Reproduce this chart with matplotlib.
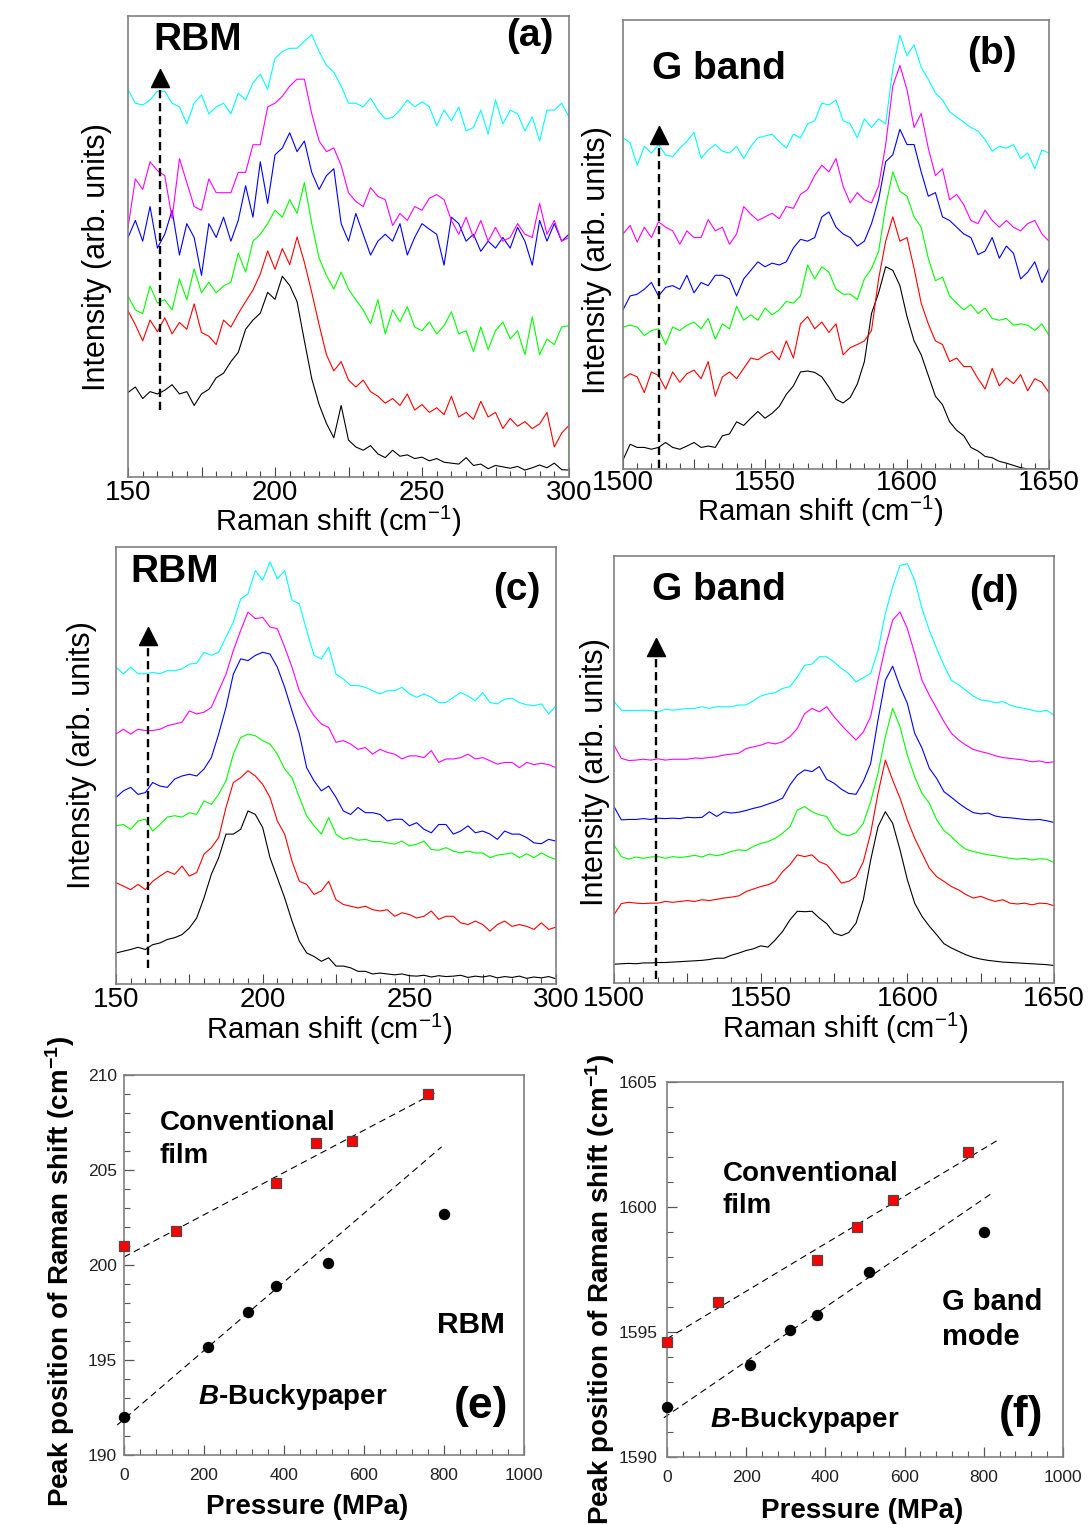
import numpy as np
import matplotlib
matplotlib.use('Agg')
import matplotlib.pyplot as plt
from matplotlib.ticker import MultipleLocator, FuncFormatter

plt.rcParams['font.family'] = ['Liberation Sans', 'DejaVu Sans']
plt.rcParams['mathtext.fontset'] = 'custom'
plt.rcParams['mathtext.rm'] = 'Liberation Sans'
plt.rcParams['mathtext.it'] = 'Liberation Sans:style=italic:weight=bold'
plt.rcParams['mathtext.bf'] = 'Liberation Sans:bold'

# ---------------- data ----------------
rbm_shift = np.arange(150, 300.01, 2.5)      # cm-1 sampling, panels a/c
g_shift = np.arange(1500, 1650.01, 2.5)      # cm-1 sampling, panels b/d
trace_colors = ['#000000', '#ff0000', '#00ff00', '#0000ff', '#ff00ff', '#00ffff']

a_black = [18.3,19.5,17.0,18.5,18.0,18.8,20.0,18.0,18.5,15.5,18.0,19.0,21.5,22.5,25.0,27.0,32.0,34.0,35.5,40.0,
           38.5,43.5,41.5,38.0,29.5,21.3,15.7,11.6,8.5,15.5,8.0,6.5,5.8,6.8,5.0,4.2,5.8,4.5,4.8,4.0,
           4.3,3.5,4.0,3.2,3.0,2.8,4.2,2.5,2.8,1.8,2.5,2.2,1.9,2.3,1.5,2.0,2.6,2.0,3.0,1.6,1.5]
a_red = [36.0,33.0,29.5,34.0,31.5,34.5,31.0,33.5,32.0,37.5,31.3,30.5,28.7,34.0,32.5,35.4,38.0,40.5,44.0,49.0,
         45.0,49.5,46.0,52.0,46.5,40.0,33.0,26.5,23.0,25.0,21.0,19.5,21.0,18.5,17.5,16.0,17.0,15.5,18.0,14.5,
         15.7,14.0,15.0,13.5,17.5,13.0,14.0,12.5,16.4,13.0,14.0,10.5,12.7,11.0,12.0,10.5,11.5,14.0,6.5,9.5,11.2]
a_green = [39.2,36.2,35.4,41.4,37.7,38.4,36.2,42.9,38.4,45.1,39.9,42.2,39.9,41.4,42.2,48.5,44.4,51.1,52.6,54.9,
           57.8,56.3,60.1,57.1,63.8,54.9,47.4,43.7,40.7,44.4,40.7,38.4,36.2,33.2,38.4,31.0,36.2,33.6,36.9,32.5,
           31.7,33.6,31.0,32.8,35.8,31.0,31.7,27.2,32.5,27.6,31.7,33.6,29.9,31.7,26.5,34.7,26.5,29.9,28.7,32.5,32.8]
a_green_end = 1.5
a_blue = [51.9,55.6,51.1,58.6,49.6,52.6,57.8,48.1,54.9,51.9,43.7,54.9,51.9,56.3,51.1,55.6,63.1,56.3,68.3,59.3,
          69.8,71.3,74.6,70.5,72.8,66.0,62.3,65.3,66.8,54.9,51.1,57.1,52.6,48.1,51.1,52.6,51.1,54.9,48.1,51.9,
          54.9,53.7,52.6,45.9,56.3,54.9,51.1,52.6,48.9,51.1,49.6,51.9,49.6,54.1,51.1,45.9,55.6,51.1,54.9,51.1,52.6]
a_magenta = [54.0,64.6,62.3,68.3,66.4,65.3,56.0,69.0,63.8,58.6,57.8,64.6,61.6,61.6,61.6,66.0,66.0,72.0,72.0,80.2,
             81.0,82.5,84.7,86.2,86.2,78.7,72.8,70.5,71.3,67.5,61.6,59.7,58.6,62.7,60.8,60.1,54.5,57.1,55.6,58.6,
             57.8,60.4,61.2,60.1,55.6,52.6,56.3,51.9,55.6,51.1,54.1,51.1,51.9,54.9,52.6,51.9,59.3,52.6,55.6,51.1,51.9]
a_cyan = [84.0,81.0,80.6,81.7,83.6,83.6,81.0,80.2,76.5,81.0,82.8,78.7,80.2,81.0,78.7,83.2,81.7,85.4,87.3,84.0,
          90.7,92.2,92.9,92.9,94.4,95.9,92.2,89.2,87.7,84.7,81.0,81.0,80.2,82.1,79.5,77.6,77.9,79.5,81.7,80.2,
          81.3,80.2,76.1,79.5,77.2,80.2,75.0,75.7,79.5,74.3,81.7,76.5,79.5,78.7,75.0,78.0,72.8,79.5,79.5,81.0,78.0]

b_black = [2.0,5.5,4.8,4.8,4.4,4.8,5.9,4.8,4.4,5.1,5.9,4.8,5.1,4.8,7.4,7.8,10.5,9.7,11.3,12.8,
           11.3,12.4,13.9,16.6,18.5,21.6,21.8,21.5,20.5,18.2,15.5,14.7,15.9,18.9,23.9,34.6,39.2,45.0,44.2,40.8,
           33.9,28.5,25.4,20.8,16.2,14.3,10.5,8.6,7.4,4.8,4.0,2.8,2.5,1.7,1.3,0.8,0.3,0.0,0.0,0.0,0.0]
b_red = [20.1,21.2,20.5,17.0,21.6,20.8,17.8,21.6,19.3,21.2,22.0,20.1,23.9,16.2,20.5,21.6,20.1,22.4,24.7,24.3,
         25.4,26.2,24.3,28.5,24.7,32.3,33.9,31.2,32.7,30.4,32.3,25.4,27.0,27.7,28.5,30.8,42.3,50.7,56.1,50.7,
         51.5,44.6,36.9,32.3,28.5,27.7,23.9,24.7,22.8,22.8,20.1,17.8,22.4,18.5,20.3,19.0,21.0,17.4,20.1,19.3,17.0]
b_green = [31.6,32.0,31.6,29.7,30.8,31.2,27.7,31.6,30.8,32.0,32.7,31.2,33.5,28.9,32.3,31.2,36.2,33.1,34.3,33.1,
           35.8,34.3,35.4,37.3,36.9,38.5,45.4,42.3,45.0,43.8,40.0,38.9,38.9,37.7,42.3,44.6,48.4,58.4,66.1,61.8,
           60.7,56.1,53.8,46.9,41.9,42.7,38.5,36.9,35.4,36.6,34.6,35.8,33.5,33.1,33.5,32.0,32.3,32.0,30.8,32.3,29.7]
b_blue = [35.4,38.5,38.9,40.0,41.5,38.5,40.4,40.8,40.0,43.1,39.2,41.5,40.8,43.1,43.1,42.3,38.5,42.3,44.2,46.1,
          45.0,45.8,45.4,46.1,49.2,51.1,50.7,51.5,56.1,57.2,53.8,52.3,51.5,49.6,50.7,54.6,59.9,68.4,69.9,75.6,
          72.2,72.2,66.1,60.7,61.5,56.1,55.3,53.8,52.3,51.5,47.7,48.5,51.5,46.9,49.6,48.0,42.3,43.8,46.1,41.5,44.6]
b_magenta = [52.3,54.2,50.5,53.8,51.5,55.0,53.8,53.0,50.0,53.0,51.5,51.5,55.5,53.0,53.8,50.0,52.3,58.4,56.7,55.3,
             56.1,56.9,55.7,58.4,58.0,61.1,62.2,65.3,67.6,66.1,69.1,62.9,59.2,61.5,59.9,59.2,63.0,72.2,85.2,89.8,
             84.4,76.0,79.1,71.4,65.3,66.8,59.9,61.1,58.8,55.3,54.6,57.6,55.3,53.8,55.3,53.8,53.0,54.6,55.3,52.3,50.7]
b_cyan = [73.7,72.6,67.6,71.8,70.3,72.2,69.9,69.5,71.4,72.9,74.9,69.1,71.0,72.2,70.7,70.3,71.8,69.1,71.8,73.7,
          74.1,74.5,72.9,71.4,74.5,73.7,76.8,77.5,81.4,81.0,82.1,77.5,76.8,73.7,77.9,76.0,77.9,76.8,89.0,96.5,
          92.0,94.4,89.4,86.7,83.7,82.1,79.5,78.3,77.2,76.0,75.2,73.3,70.7,71.8,71.4,72.2,69.1,70.3,66.8,71.0,70.3]

c_black = [7.1,7.5,7.9,8.4,7.9,9.0,9.4,10.2,10.6,11.3,12.8,15.1,19.7,25.1,28.9,34.3,34.3,35.4,39.6,38.8,
           35.8,28.9,24.3,19.7,14.4,9.8,7.1,6.3,5.2,6.0,4.1,4.1,3.7,2.9,2.9,2.3,2.5,2.3,2.1,2.3,
           1.9,1.8,2.0,1.6,1.9,1.7,1.8,2.0,1.5,1.8,1.6,1.9,1.4,1.7,1.5,1.8,1.3,1.6,1.4,1.7,1.2]
c_red = [23.2,22.4,21.6,22.8,21.6,23.5,24.7,25.8,25.1,27.0,24.7,25.5,29.7,31.2,33.5,40.4,46.1,47.2,48.8,47.6,
         45.7,42.7,37.3,34.3,28.1,23.5,22.8,20.5,21.3,23.5,19.3,18.2,17.8,17.4,17.8,17.0,16.7,17.0,15.5,16.3,
         15.9,15.1,15.5,16.7,14.8,15.5,15.5,14.0,13.6,14.4,13.6,12.1,13.6,14.4,13.2,13.6,13.2,12.5,14.0,12.5,13.0]
c_green = [36.2,36.5,35.4,37.3,37.7,35.0,36.5,38.2,38.5,38.2,39.2,38.8,41.9,41.1,43.4,46.5,52.6,56.4,57.2,56.8,
           55.7,54.9,52.6,49.2,47.2,42.7,38.5,36.2,34.3,38.1,34.3,33.1,33.5,32.9,33.1,32.6,32.6,32.3,32.0,32.7,
           31.6,32.0,32.7,30.8,30.6,31.2,30.4,30.0,30.4,30.0,30.0,28.9,29.5,29.7,30.0,28.9,29.8,28.9,30.0,29.1,28.5]
c_blue = [42.7,44.2,45.0,43.4,43.8,46.1,45.3,45.0,46.9,47.6,48.0,47.6,49.2,51.8,57.2,63.3,70.9,74.4,74.0,75.2,
          75.9,75.5,72.5,67.9,62.5,57.2,49.5,46.5,44.2,45.3,42.7,39.6,38.8,40.4,39.2,39.2,38.8,37.3,37.7,37.7,
          36.2,36.9,35.4,34.6,36.5,36.5,34.3,35.0,36.2,34.6,35.0,34.3,33.1,35.0,34.3,34.3,33.5,32.3,32.1,33.1,32.7]
c_magenta = [57.2,58.3,57.2,58.3,58.0,58.0,58.3,59.1,59.5,59.9,62.5,61.8,62.2,63.3,67.1,70.9,76.3,80.9,85.1,83.6,
             83.9,81.7,81.3,77.1,72.5,67.1,64.1,61.4,59.5,58.7,55.3,55.7,54.9,53.7,54.1,52.6,53.7,53.0,52.6,51.5,
             52.2,52.2,51.8,53.4,50.7,51.5,51.5,51.8,52.6,51.5,51.8,51.1,50.3,50.7,50.7,49.5,50.7,50.2,50.5,50.2,49.5]
c_cyan = [72.5,71.0,72.5,71.0,71.0,71.3,71.0,71.7,71.7,72.1,73.2,73.4,75.9,75.2,75.9,79.4,82.8,88.1,89.3,94.6,
          92.4,96.6,92.7,94.6,87.8,87.0,80.9,75.2,74.4,77.1,70.9,69.8,68.3,68.3,67.9,67.1,66.4,67.1,67.1,67.9,
          66.4,65.6,66.4,65.6,64.4,64.4,65.6,66.7,65.9,64.8,66.7,64.4,64.1,65.2,65.4,64.4,63.9,63.7,64.1,61.8,63.7]

d_black = [4.4,4.5,4.6,4.5,4.7,4.7,4.8,4.8,4.9,5.0,5.1,5.2,5.3,5.5,5.8,5.8,6.5,7.0,7.6,8.0,
           8.7,8.4,10.1,12.1,14.8,16.8,16.7,16.8,15.2,13.9,11.7,11.1,11.8,14.0,19.5,28.8,36.6,40.1,37.4,31.2,
           24.2,18.7,15.6,13.3,11.3,9.2,8.2,7.4,6.6,6.0,5.6,5.3,5.1,4.9,4.8,4.7,4.6,4.5,4.4,4.3,4.1]
d_red = [16.0,18.6,18.9,18.7,18.6,18.7,18.7,19.1,18.9,19.1,19.3,19.1,19.5,19.3,19.6,19.9,20.1,20.4,21.4,22.0,
         22.6,23.0,23.8,26.1,27.7,30.0,29.6,30.0,28.4,27.7,25.7,23.4,23.8,24.9,28.4,35.1,44.4,52.2,47.5,43.3,
         38.2,33.9,30.4,26.9,24.9,23.8,22.6,21.8,20.7,19.9,20.3,19.6,19.1,19.5,18.7,18.5,18.7,18.3,18.7,18.6,18.1]
d_green = [32.3,29.6,29.0,29.5,29.2,29.5,29.6,29.2,29.6,29.4,29.6,29.9,29.5,30.2,29.8,30.2,30.8,31.2,31.0,32.0,
           32.7,33.1,33.9,35.1,36.6,40.5,41.3,40.1,39.4,39.0,36.2,34.9,34.5,35.2,37.4,42.5,49.1,57.7,64.3,60.0,
           53.4,48.3,44.4,42.1,38.2,35.7,34.3,32.6,31.3,30.8,30.4,30.0,29.8,29.5,29.2,29.0,29.2,28.8,29.1,29.0,28.2]
d_blue = [41.3,38.2,38.3,38.3,38.5,38.3,38.6,38.5,38.6,38.5,38.8,38.7,38.8,40.1,39.0,40.1,39.8,40.0,40.4,40.9,
          41.3,41.9,42.5,43.3,46.4,48.7,49.9,49.5,50.7,47.7,46.8,45.4,44.4,44.2,47.2,51.4,61.6,70.9,74.2,69.4,
          65.5,58.5,55.0,50.3,47.9,44.8,43.5,42.1,40.9,39.9,39.6,39.8,39.1,38.8,38.7,38.5,38.3,38.2,38.3,38.0,37.6]
d_magenta = [55.7,52.6,52.1,52.2,52.4,52.2,52.5,52.2,52.4,52.4,52.4,52.7,52.6,52.8,53.0,53.4,53.6,53.8,54.9,55.3,
             55.7,56.3,56.0,56.5,57.7,59.6,63.1,64.3,63.5,64.7,62.4,60.4,58.6,56.9,58.8,62.4,70.9,78.7,85.0,86.9,
             83.0,77.2,70.9,67.4,64.3,61.2,58.5,56.9,55.7,54.7,54.2,53.8,53.2,52.8,52.6,52.4,52.2,51.8,52.0,51.6,51.8]
d_cyan = [65.9,63.9,63.8,63.8,63.9,63.8,63.5,64.1,63.9,64.1,64.3,64.3,64.7,64.3,64.7,64.7,64.7,65.1,65.1,66.1,
          67.2,67.7,68.0,69.0,69.4,71.7,74.4,74.7,76.4,76.4,75.2,73.7,72.5,70.5,71.5,72.5,77.9,86.5,92.8,97.8,
          98.2,94.3,87.7,82.6,78.3,74.4,70.9,69.8,68.5,67.2,66.3,66.1,65.6,65.9,65.1,64.6,64.3,63.9,63.5,63.9,62.7]

# arrows: (x, start, tip) in data units
arrow_a = (161.0, 14.6, 88.4)
arrow_b = (1512.5, 0.2, 76.4)
arrow_c = (161.0, 3.7, 81.8)
arrow_d = (1514.2, 0.9, 80.7)

# panel e / f
pressure_conv = [0, 130, 380, 480, 570, 760]
pressure_bucky = [0, 210, 310, 380, 510, 800]
rbm_conv = [201.0, 201.8, 204.3, 206.4, 206.5, 209.0]
rbm_bucky = [192.0, 195.7, 197.5, 198.9, 200.1, 202.7]
g_conv = [1594.6, 1596.2, 1597.9, 1599.2, 1600.3, 1602.2]
g_bucky = [1592.0, 1593.7, 1595.1, 1595.7, 1597.4, 1599.0]
rbm_conv_fit_x, rbm_conv_fit_y = [0, 786], [200.42, 209.16]
rbm_bucky_fit_x, rbm_bucky_fit_y = [-17, 794], [191.58, 206.22]
g_conv_fit_x, g_conv_fit_y = [0, 835], [1594.73, 1602.67]
g_bucky_fit_x, g_bucky_fit_y = [-8, 825], [1591.57, 1600.6]

# ---------------- figure ----------------
W, H = 1091, 1524
fig = plt.figure(figsize=(W / 100, H / 100), dpi=100)


def add_axes(l, t, r, b):
    return fig.add_axes([l / W, 1 - b / H, (r - l) / W, (b - t) / H])


def ftext(x, y, s, **kw):
    fig.text(x / W, 1 - y / H, s, **kw)


SPINE = '#808080'
head_marker = [(0, 0), (-0.5, -1), (0.5, -1), (0, 0)]


def spectra_panel(box, curves, xlim, arrow, title, tag, title_pos, tag_pos, pad, lsize):
    ax = add_axes(*box)
    for (xs, ys), col in zip(curves, trace_colors):
        ax.plot(xs, ys, color=col, lw=0.8)
    ax.set_xlim(*xlim)
    ax.set_ylim(0, 100)
    ax.set_yticks([])
    ax.xaxis.set_major_locator(MultipleLocator(25))
    ax.xaxis.set_minor_locator(MultipleLocator(5))
    ax.xaxis.set_major_formatter(FuncFormatter(lambda v, p: f'{v:.0f}' if abs(v % 50) < 1e-6 else ''))
    ax.tick_params(axis='x', which='major', direction='in', length=7, width=0.8, color='#444',
                   labelsize=lsize, pad=pad)
    ax.tick_params(axis='x', which='minor', direction='in', length=4, width=0.8, color='#444')
    for s in ax.spines.values():
        s.set_color(SPINE)
        s.set_linewidth(1.2)
    x0, y0, y1 = arrow
    ax.plot([x0, x0], [y0, y1 - 2], color='k', lw=1.7, ls=(0, (3.5, 2)), clip_on=False)
    ax.plot([x0], [y1], marker=head_marker, ms=26, color='k', clip_on=False, zorder=5)
    ax.text(title_pos[0], title_pos[1], title, transform=ax.transAxes, fontsize=28,
            fontweight='bold', ha='left', va='baseline')
    ax.text(tag_pos[0], tag_pos[1], tag, transform=ax.transAxes, fontsize=28,
            fontweight='bold', ha='right', va='baseline')
    return ax


xlabel_sp = 'Raman shift (cm$^{-1}$)'
ylabel_sp = 'Intensity (arb. units)'

# (a)
curves_a = [(rbm_shift, a_black), (rbm_shift, a_red),
            (np.append(rbm_shift, 300.0), a_green + [a_green_end]),
            (rbm_shift, a_blue), (rbm_shift, a_magenta), (rbm_shift, a_cyan)]
spectra_panel((128, 15.5, 569, 477), curves_a, (150, 300), arrow_a, 'RBM', '(a)',
              (0.057, 0.926), (0.965, 0.933), 2, 20)
ftext(338, 531, xlabel_sp, fontsize=21, ha='center', va='baseline')
ftext(97, 257, ylabel_sp, fontsize=22, ha='center', va='center', rotation=90)

# (b)
curves_b = [(g_shift, v) for v in (b_black, b_red, b_green, b_blue, b_magenta, b_cyan)]
spectra_panel((623, 19.6, 1049, 469), curves_b, (1500, 1650), arrow_b, 'G band', '(b)',
              (0.068, 0.867), (0.925, 0.902), 1, 20)
ftext(820, 521, xlabel_sp, fontsize=21, ha='center', va='baseline')
ftext(597, 260, ylabel_sp, fontsize=22, ha='center', va='center', rotation=90)

# (c)
curves_c = [(rbm_shift, v) for v in (c_black, c_red, c_green, c_blue, c_magenta, c_cyan)]
spectra_panel((116, 547, 556, 984), curves_c, (150, 300), arrow_c, 'RBM', '(c)',
              (0.032, 0.920), (0.964, 0.878), 2, 20)
ftext(329, 1039, xlabel_sp, fontsize=21, ha='center', va='baseline')
ftext(82, 755, ylabel_sp, fontsize=22, ha='center', va='center', rotation=90)

# (d)
curves_d = [(g_shift, v) for v in (d_black, d_red, d_green, d_blue, d_magenta, d_cyan)]
spectra_panel((614, 556, 1054, 983), curves_d, (1500, 1650), arrow_d, 'G band', '(d)',
              (0.086, 0.897), (0.920, 0.893), 2, 20)
ftext(845, 1038, xlabel_sp, fontsize=21, ha='center', va='baseline')
ftext(595, 772, ylabel_sp, fontsize=22, ha='center', va='center', rotation=90)


def pressure_panel(box, ylim, conv, bucky, conv_fit, bucky_fit, ypad, xpad):
    ax = add_axes(*box)
    dash = (0, (6, 4))
    ax.plot(*conv_fit, color='k', lw=0.8, ls=dash, clip_on=False)
    ax.plot(*bucky_fit, color='k', lw=0.8, ls=dash, clip_on=False)
    ax.plot(pressure_conv, conv, 's', ms=6.8, mfc='#ff0000', mec='#4a4a4a', mew=0.9,
            clip_on=False, zorder=4)
    ax.plot(pressure_bucky, bucky, 'o', ms=7.2, color='#000000', clip_on=False, zorder=4)
    ax.set_xlim(0, 1000)
    ax.set_ylim(*ylim)
    ax.xaxis.set_major_locator(MultipleLocator(200))
    ax.xaxis.set_minor_locator(MultipleLocator(40))
    ax.yaxis.set_major_locator(MultipleLocator(5))
    ax.yaxis.set_minor_locator(MultipleLocator(1))
    ax.tick_params(axis='both', which='major', direction='in', length=7, width=0.9, color='#555',
                   labelsize=12.5, labelcolor='#222')
    ax.tick_params(axis='both', which='minor', direction='in', length=4, width=0.8, color='#555')
    ax.tick_params(axis='x', pad=xpad)
    ax.tick_params(axis='y', pad=ypad)
    for s in ax.spines.values():
        s.set_color(SPINE)
        s.set_linewidth(1.2)
    return ax


# (e)
ax_e = pressure_panel((124, 1075, 524, 1455), (190, 210), rbm_conv, rbm_bucky,
                      (rbm_conv_fit_x, rbm_conv_fit_y), (rbm_bucky_fit_x, rbm_bucky_fit_y), 5, 9)
kw = dict(transform=ax_e.transAxes, fontweight='bold', va='baseline')
ax_e.text(0.089, 0.855, 'Conventional', fontsize=20, ha='left', **kw)
ax_e.text(0.089, 0.768, 'film', fontsize=20, ha='left', **kw)
ax_e.text(0.782, 0.322, 'RBM', fontsize=21.5, ha='left', **kw)
ax_e.text(0.186, 0.135, '$\\mathit{B}$-Buckypaper', fontsize=20, ha='left', **kw)
ax_e.text(0.960, 0.098, '(e)', fontsize=32, ha='right', **kw)
ftext(307, 1514, 'Pressure (MPa)', fontsize=20, fontweight='bold', ha='center', va='baseline')
ftext(60, 1272, 'Peak position of Raman shift (cm$^{\\mathbf{-1}}$)', fontsize=20,
      fontweight='bold', ha='center', va='center', rotation=90)

# (f)
ax_f = pressure_panel((667, 1082, 1063, 1457), (1590, 1605), g_conv, g_bucky,
                      (g_conv_fit_x, g_conv_fit_y), (g_bucky_fit_x, g_bucky_fit_y), 7, 9)
kw = dict(transform=ax_f.transAxes, fontweight='bold', va='baseline')
ax_f.text(0.141, 0.736, 'Conventional', fontsize=20, ha='left', **kw)
ax_f.text(0.141, 0.651, 'film', fontsize=20, ha='left', **kw)
ax_f.text(0.694, 0.392, 'G band', fontsize=21, ha='left', **kw)
ax_f.text(0.694, 0.299, 'mode', fontsize=21, ha='left', **kw)
ax_f.text(0.109, 0.080, '$\\mathit{B}$-Buckypaper', fontsize=20, ha='left', **kw)
ax_f.text(0.950, 0.080, '(f)', fontsize=32, ha='right', **kw)
ftext(862, 1518, 'Pressure (MPa)', fontsize=20, fontweight='bold', ha='center', va='baseline')
ftext(600, 1290, 'Peak position of Raman shift (cm$^{\\mathbf{-1}}$)', fontsize=20,
      fontweight='bold', ha='center', va='center', rotation=90)

fig.savefig('out.png', dpi=100)
